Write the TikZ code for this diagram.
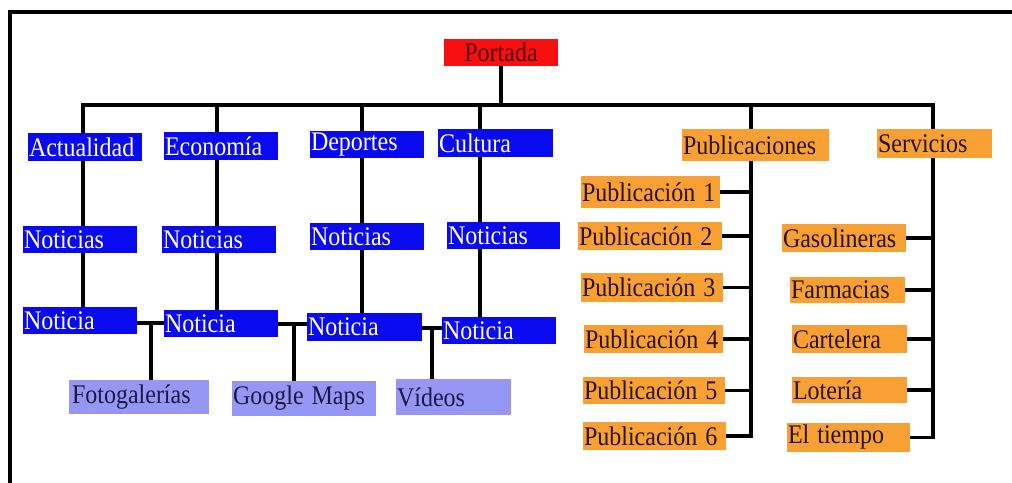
\documentclass[tikz,border=0pt]{standalone}
\usepackage{fontspec}
\usepackage{graphicx}
\setmainfont{Liberation Serif}
\usetikzlibrary{backgrounds}
\definecolor{cblue}{RGB}{10,10,240}
\definecolor{corange}{RGB}{248,160,52}
\definecolor{clilac}{RGB}{150,150,245}
\definecolor{cred}{RGB}{248,16,16}
\definecolor{cdred}{RGB}{80,0,0}
\definecolor{cnavy}{RGB}{25,25,70}
\definecolor{cbrown}{RGB}{40,18,0}
\newcommand\fsz{\fontsize{24}{26}\selectfont}
\newcommand\mybox[7]{%
  \pgfmathsetmacro\mbh{#6-#4}%
  \pgfmathsetmacro\mbt{#5-#3-2}%
  \node[#1, anchor=north west, text width=\mbt pt, minimum height=\mbh pt] (#2) at (#3,#4) {\scalebox{1}[1.12]{#7}};}
\tikzset{
  base/.style={inner xsep=1pt, inner ysep=0pt, outer sep=0pt, font=\fsz, align=left},
  bluebox/.style={base, fill=cblue, text=white},
  orangebox/.style={base, fill=corange, text=cbrown},
  lilacbox/.style={base, fill=clilac, text=cnavy},
  redbox/.style={base, fill=cred, text=cdred, align=center},
  conn/.style={draw=black, line width=3.2pt, line cap=rect},
  frame/.style={draw=black, line width=4.5pt}
}
\begin{document}
\begin{tikzpicture}[x=1pt, y=-1pt]
\useasboundingbox (0,0) rectangle (1012,482);
\draw[frame] (10,495) -- (10,12) -- (1025,12);
% top
\mybox{redbox}{portada}{444}{39}{558}{66}{Portada}
% level 1
\mybox{bluebox}{act}{28}{133}{142}{161}{Actualidad}
\mybox{bluebox}{eco}{164}{132}{278}{160}{Economía}
\mybox{bluebox}{dep}{310}{131}{424}{158}{Deportes}
\mybox{bluebox}{cul}{438}{129}{553}{157}{Cultura}
\mybox{orangebox}{pub}{682}{129}{829}{161}{Publicaciones}
\mybox{orangebox}{ser}{877}{129}{992}{158}{Servicios}
% Noticias
\mybox{bluebox}{ns1}{23}{226}{137}{253}{Noticias}
\mybox{bluebox}{ns2}{162}{226}{276}{253}{Noticias}
\mybox{bluebox}{ns3}{310}{223}{424}{250}{Noticias}
\mybox{bluebox}{ns4}{447}{222}{560}{249}{Noticias}
% Noticia
\mybox{bluebox}{nc1}{23}{307}{137}{334}{Noticia}
\mybox{bluebox}{nc2}{164}{310}{278}{337}{Noticia}
\mybox{bluebox}{nc3}{307}{313}{422}{341}{Noticia}
\mybox{bluebox}{nc4}{442}{317}{556}{344}{Noticia}
% extras
\mybox{lilacbox}{foto}{69}{380}{209}{414}{\hspace*{2pt}Fotogalerías}
\mybox{lilacbox}{gmap}{232}{381}{376}{416}{Google Maps}
\mybox{lilacbox}{vid}{396}{379}{511}{415}{Vídeos}
% publicaciones
\mybox{orangebox}{p1}{581}{176}{720}{208}{Publicación 1}
\mybox{orangebox}{p2}{578}{222}{722}{250}{Publicación 2}
\mybox{orangebox}{p3}{581}{273}{723}{302}{Publicación 3}
\mybox{orangebox}{p4}{584}{325}{723}{353}{Publicación 4}
\mybox{orangebox}{p5}{583}{377}{725}{404}{Publicación 5}
\mybox{orangebox}{p6}{583}{422}{726}{450}{Publicación 6}
% servicios
\mybox{orangebox}{gas}{782}{224}{906}{252}{Gasolineras}
\mybox{orangebox}{far}{790}{277}{905}{303}{Farmacias}
\mybox{orangebox}{car}{792}{325}{907}{353}{Cartelera}
\mybox{orangebox}{lot}{792}{377}{907}{403}{Lotería}
\mybox{orangebox}{tie}{787}{423}{910}{452}{El tiempo}
% junction coordinates
\coordinate (bL) at (83,105);
\coordinate (bE) at (217,105);
\coordinate (bD) at (362,105);
\coordinate (bC) at (480,105);
\coordinate (bP) at (751,105);
\coordinate (bR) at (933,105);
\coordinate (t1) at (151,323);
\coordinate (t2) at (294,324);
\coordinate (t3) at (432,328);
\begin{scope}[on background layer]
\draw[conn] (portada.south) -- (portada.south |- bL);
\draw[conn] (bL) -- (bR);
% Actualidad
\draw[conn] (bL) -- (bL |- act.north);
\draw[conn] (bL |- act.south) -- (bL |- ns1.north);
\draw[conn] (bL |- ns1.south) -- (bL |- nc1.north);
% Economia
\draw[conn] (bE) -- (bE |- eco.north);
\draw[conn] (bE |- eco.south) -- (bE |- ns2.north);
\draw[conn] (bE |- ns2.south) -- (bE |- nc2.north);
% Deportes
\draw[conn] (bD) -- (bD |- dep.north);
\draw[conn] (bD |- dep.south) -- (bD |- ns3.north);
\draw[conn] (bD |- ns3.south) -- (bD |- nc3.north);
% Cultura
\draw[conn] (bC) -- (bC |- cul.north);
\draw[conn] (bC |- cul.south) -- (bC |- ns4.north);
\draw[conn] (bC |- ns4.south) -- (bC |- nc4.north);
% T junctions
\draw[conn] (t1 -| nc1.east) -- (t1 -| nc2.west);
\draw[conn] (t1) -- (t1 |- foto.north);
\draw[conn] (t2 -| nc2.east) -- (t2 -| nc3.west);
\draw[conn] (t2) -- (t2 |- gmap.north);
\draw[conn] (t3 -| nc3.east) -- (t3 -| nc4.west);
\draw[conn] (t3) -- (t3 |- vid.north);
% Publicaciones
\draw[conn] (bP) -- (bP |- pub.north);
\draw[conn] (bP |- pub.south) -- (bP |- p6.east);
\foreach \n in {p1,p2,p3,p4,p5,p6}{\draw[conn] (\n.east) -- (\n.east -| bP);}
% Servicios
\draw[conn] (bR) -- (bR |- ser.north);
\draw[conn] (bR |- ser.south) -- (bR |- tie.east);
\foreach \n in {gas,far,car,lot,tie}{\draw[conn] (\n.east) -- (\n.east -| bR);}
\end{scope}
\end{tikzpicture}
\end{document}
